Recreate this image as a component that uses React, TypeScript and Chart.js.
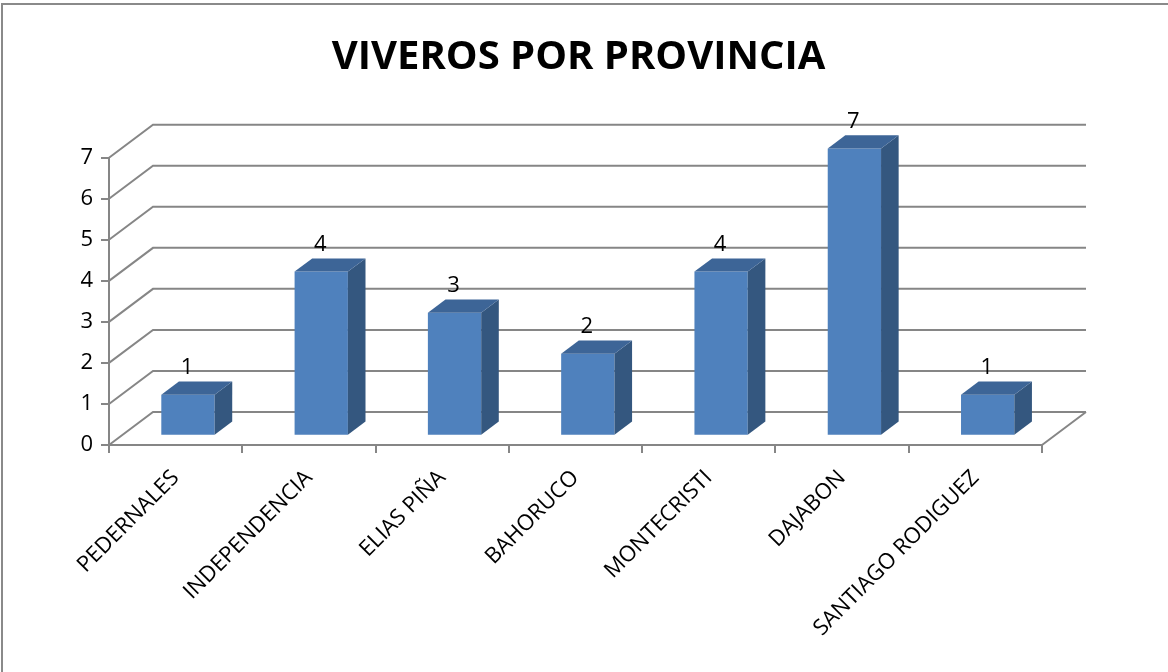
import React, { useEffect, useRef } from "react";
import { Chart, registerables } from "chart.js";

Chart.register(...registerables);

const TITLE = "VIVEROS POR PROVINCIA";
const categories = [
  "PEDERNALES",
  "INDEPENDENCIA",
  "ELIAS PIÑA",
  "BAHORUCO",
  "MONTECRISTI",
  "DAJABON",
  "SANTIAGO RODIGUEZ",
];
const viveros = [1, 4, 3, 2, 4, 7, 1];
const yTicks = [0, 1, 2, 3, 4, 5, 6, 7];

const FONT = "'Open Sans', 'DejaVu Sans', sans-serif";
const GRID = "#868686";
const FRONT = "#4F81BD";
const SIDE = "#34577F";
const TOP = "#3D6597";

// 3D projection of the plot box (depth offsets)
const DEPTH_X = 44;
const DEPTH_Y = -33;
const BAR_POS = 0.28; // depth position of the bar front faces
const BAR_DEPTH = 0.4; // bar depth as a fraction of full depth

const threeD = {
  id: "threeD",
  beforeDraw(chart: any) {
    const ctx = chart.ctx;
    ctx.save();
    ctx.strokeStyle = "#8a8a8a";
    ctx.lineWidth = 2;
    ctx.beginPath();
    ctx.moveTo(2, 700);
    ctx.lineTo(2, 4);
    ctx.lineTo(1200, 4);
    ctx.stroke();
    ctx.restore();
  },
  beforeDatasetsDraw(chart: any) {
    const ctx = chart.ctx;
    const y = chart.scales.y;
    const left = chart.chartArea.left;
    const right = chart.chartArea.right;
    ctx.save();
    ctx.strokeStyle = GRID;
    ctx.lineWidth = 2;
    ctx.beginPath();
    yTicks.forEach((v) => {
      const py = y.getPixelForValue(v);
      ctx.moveTo(left, py);
      ctx.lineTo(left + DEPTH_X, py + DEPTH_Y);
      ctx.lineTo(right + DEPTH_X, py + DEPTH_Y);
    });
    const py0 = y.getPixelForValue(0);
    ctx.moveTo(right, py0);
    ctx.lineTo(right + DEPTH_X, py0 + DEPTH_Y);
    ctx.stroke();
    ctx.restore();
    // shift the bars into the depth of the box
    ctx.save();
    ctx.translate(DEPTH_X * BAR_POS, DEPTH_Y * BAR_POS);
  },
  afterDatasetsDraw(chart: any) {
    const ctx = chart.ctx;
    const meta = chart.getDatasetMeta(0);
    const bdx = DEPTH_X * BAR_DEPTH;
    const bdy = DEPTH_Y * BAR_DEPTH;
    meta.data.forEach((bar: any, i: number) => {
      const { x, y, base, width } = bar.getProps(["x", "y", "base", "width"], true);
      const l = x - width / 2;
      const r = x + width / 2;
      ctx.fillStyle = SIDE;
      ctx.beginPath();
      ctx.moveTo(r, y);
      ctx.lineTo(r + bdx, y + bdy);
      ctx.lineTo(r + bdx, base + bdy);
      ctx.lineTo(r, base);
      ctx.closePath();
      ctx.fill();
      ctx.fillStyle = TOP;
      ctx.beginPath();
      ctx.moveTo(l, y);
      ctx.lineTo(l + bdx, y + bdy);
      ctx.lineTo(r + bdx, y + bdy);
      ctx.lineTo(r, y);
      ctx.closePath();
      ctx.fill();
      ctx.fillStyle = "#000";
      ctx.font = `22px ${FONT}`;
      ctx.textAlign = "center";
      ctx.textBaseline = "middle";
      ctx.fillText(String(viveros[i]), x - 1, y + bdy - 14);
    });
    ctx.restore();
  },
};

export default function App() {
  const ref = useRef<HTMLCanvasElement | null>(null);
  useEffect(() => {
    if (!ref.current) return;
    const chart = new Chart(ref.current, {
      type: "bar",
      data: {
        labels: categories,
        datasets: [
          {
            data: viveros,
            backgroundColor: FRONT,
            borderWidth: 0,
            categoryPercentage: 1,
            barPercentage: 0.4,
            clip: false as any,
          },
        ],
      },
      options: {
        animation: false,
        responsive: false,
        maintainAspectRatio: false,
        layout: { padding: { left: 0, right: 11, top: 0, bottom: 0 } },
        plugins: {
          legend: { display: false },
          tooltip: { enabled: false },
          title: {
            display: true,
            text: TITLE,
            color: "#000",
            font: { family: FONT, size: 40, weight: "bold", lineHeight: 1.2 },
            padding: { top: 34, bottom: 75.7 },
          },
        },
        scales: {
          x: {
            type: "category",
            grid: {
              display: true,
              drawOnChartArea: false,
              drawTicks: true,
              tickLength: 8,
              offset: true,
              color: GRID,
              lineWidth: 2,
            },
            border: { display: true, color: GRID, width: 2 },
            ticks: {
              color: "#000",
              font: { family: FONT, size: 22 },
              maxRotation: 45,
              minRotation: 45,
              autoSkip: false,
              padding: 12,
            },
            afterFit(scale: any) {
              scale.height = 227;
            },
          },
          y: {
            type: "linear",
            min: 0,
            max: 7,
            grid: {
              display: true,
              drawOnChartArea: false,
              drawTicks: true,
              tickLength: 8,
              color: GRID,
              lineWidth: 2,
            },
            border: { display: true, color: GRID, width: 2 },
            ticks: {
              stepSize: 1,
              color: "#000",
              font: { family: FONT, size: 22 },
              padding: 8,
            },
            afterFit(scale: any) {
              scale.width = 109;
            },
          },
          y2: {
            type: "linear",
            position: "right",
            display: true,
            grid: { display: false, drawTicks: false },
            border: { display: false },
            ticks: { display: false },
            afterFit(scale: any) {
              scale.width = 115;
            },
          },
        },
      },
      plugins: [threeD],
    });
    return () => chart.destroy();
  }, []);
  return (
    <div style={{ position: "fixed", left: 0, top: 0, width: 1168, height: 672, background: "#fff" }}>
      <canvas ref={ref} width={1168} height={672} style={{ display: "block" }} />
    </div>
  );
}
